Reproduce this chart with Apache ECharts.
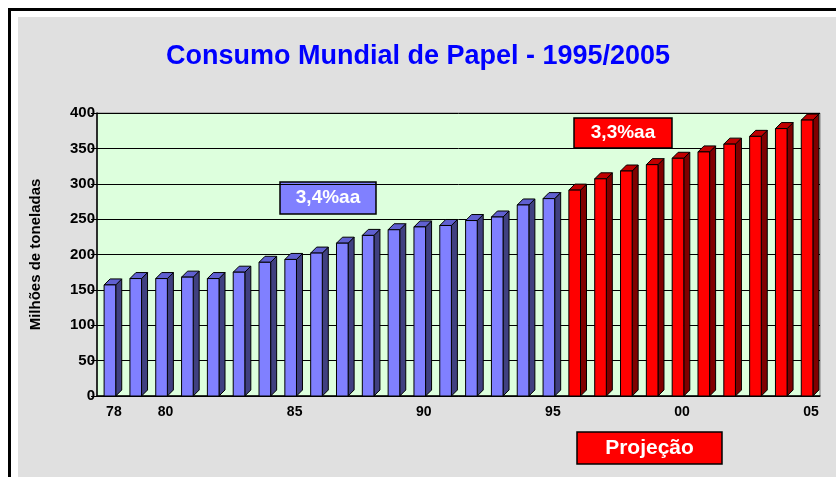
<!DOCTYPE html>
<html>
<head>
<meta charset="utf-8">
<script src="https://cdn.jsdelivr.net/npm/echarts@6/dist/echarts.min.js"></script>
<style>
  html, body { margin: 0; padding: 0; background: #fff; }
  #chart { width: 836px; height: 477px; }
</style>
</head>
<body>
<div id="chart"></div>
<script>
// anos 1978 - 2005
var anos = ['78','79','80','81','82','83','84','85','86','87','88','89','90','91',
            '92','93','94','95','96','97','98','99','00','01','02','03','04','05'];
var rotulosVisiveis = ['78', '80', '85', '90', '95', '00', '05'];
// milhões de toneladas
var historico = [157, 166, 166, 168, 166, 175, 189, 193, 202, 216, 227, 235, 239, 241, 248, 253, 270, 279];
var projecao = [291, 307, 318, 327, 336, 345, 356, 367, 378, 390];
var yTicks = [0, 50, 100, 150, 200, 250, 300, 350, 400];

var fonte = 'Liberation Sans, Arial, sans-serif';

function caixa3d(frente, lado, topo) {
    return function (params, api) {
        var p = api.coord([api.value(0), api.value(1)]);
        var base = api.coord([api.value(0), 0]);
        var w = api.size([1, 0])[0] * 0.45;
        var d = 6;
        var x0 = p[0] - w / 2, x1 = p[0] + w / 2;
        var yT = p[1], yB = base[1];
        var borda = { stroke: '#000', lineWidth: 1 };
        return {
            type: 'group',
            children: [
                {
                    type: 'polygon',
                    shape: { points: [[x1, yT], [x1 + d, yT - d], [x1 + d, yB - d], [x1, yB]] },
                    style: Object.assign({ fill: lado }, borda)
                },
                {
                    type: 'polygon',
                    shape: { points: [[x0, yT], [x0 + d, yT - d], [x1 + d, yT - d], [x1, yT]] },
                    style: Object.assign({ fill: topo }, borda)
                },
                {
                    type: 'rect',
                    shape: { x: x0, y: yT, width: w, height: yB - yT },
                    style: Object.assign({ fill: frente }, borda)
                }
            ]
        };
    };
}

function caixaTexto(x, y, w, h, cor, texto, tamanho) {
    return {
        type: 'group',
        z: 100,
        children: [
            { type: 'rect', shape: { x: x, y: y, width: w, height: h },
              style: { fill: cor, stroke: '#000', lineWidth: 1.5 } },
            { type: 'text', x: x + w / 2, y: y + h / 2,
              style: { text: texto, fill: '#fff', font: 'bold ' + tamanho + 'px ' + fonte,
                       align: 'center', verticalAlign: 'middle' } }
        ]
    };
}

var chart = echarts.init(document.getElementById('chart'));
chart.setOption({
    backgroundColor: '#ffffff',
    animation: false,
    title: {
        text: 'Consumo Mundial de Papel - 1995/2005',
        left: 'center',
        top: 38,
        textStyle: { color: '#0000ff', fontSize: 27, fontWeight: 'bold', fontFamily: fonte }
    },
    graphic: [
        { type: 'rect', z: -10, shape: { x: 9.5, y: 9.5, width: 900, height: 600 },
          style: { fill: '#fff', stroke: '#000', lineWidth: 3 } },
        { type: 'rect', z: -9, shape: { x: 18, y: 17, width: 900, height: 600 },
          style: { fill: '#e0e0e0' } },
        caixaTexto(280, 182, 96, 32, '#8080ff', '3,4%aa', 19),
        caixaTexto(574, 118, 98, 30, '#ff0000', '3,3%aa', 19),
        caixaTexto(577, 432, 145, 32, '#ff0000', 'Projeção', 21)
    ],
    grid: {
        show: true,
        left: 97,
        right: 16,
        top: 113,
        bottom: 81,
        backgroundColor: '#ddffdd',
        borderColor: '#808080',
        borderWidth: 1
    },
    xAxis: {
        type: 'category',
        data: anos,
        axisLine: { lineStyle: { color: '#000', width: 1.5 } },
        axisTick: { show: false },
        axisLabel: {
            interval: 0,
            margin: 9,
            padding: [0, 0, 0, 8],
            color: '#000',
            fontSize: 14,
            fontWeight: 'bold',
            fontFamily: fonte,
            formatter: function (v) { return rotulosVisiveis.indexOf(v) >= 0 ? v : ''; }
        }
    },
    yAxis: {
        type: 'value',
        min: yTicks[0],
        max: yTicks[yTicks.length - 1],
        interval: 50,
        name: 'Milhões de toneladas',
        nameLocation: 'middle',
        nameRotate: 90,
        nameGap: 54,
        nameTextStyle: { color: '#000', fontSize: 15, fontWeight: 'bold', fontFamily: fonte },
        axisLine: { show: true, lineStyle: { color: '#000', width: 1.5 } },
        axisTick: { show: true, length: 6, lineStyle: { color: '#000' } },
        axisLabel: { margin: 2, color: '#000', fontSize: 15, fontWeight: 'bold', fontFamily: fonte },
        splitLine: { lineStyle: { color: '#000', width: 1 } }
    },
    series: [
        {
            name: 'Histórico',
            type: 'custom',
            renderItem: caixa3d('#8080ff', '#404080', '#6060d0'),
            data: historico.map(function (v, i) { return [i, v]; }),
            z: 5
        },
        {
            name: 'Projeção',
            type: 'custom',
            renderItem: caixa3d('#ff0000', '#800000', '#c00000'),
            data: projecao.map(function (v, i) { return [i + historico.length, v]; }),
            z: 5
        }
    ]
});
</script>
</body>
</html>
